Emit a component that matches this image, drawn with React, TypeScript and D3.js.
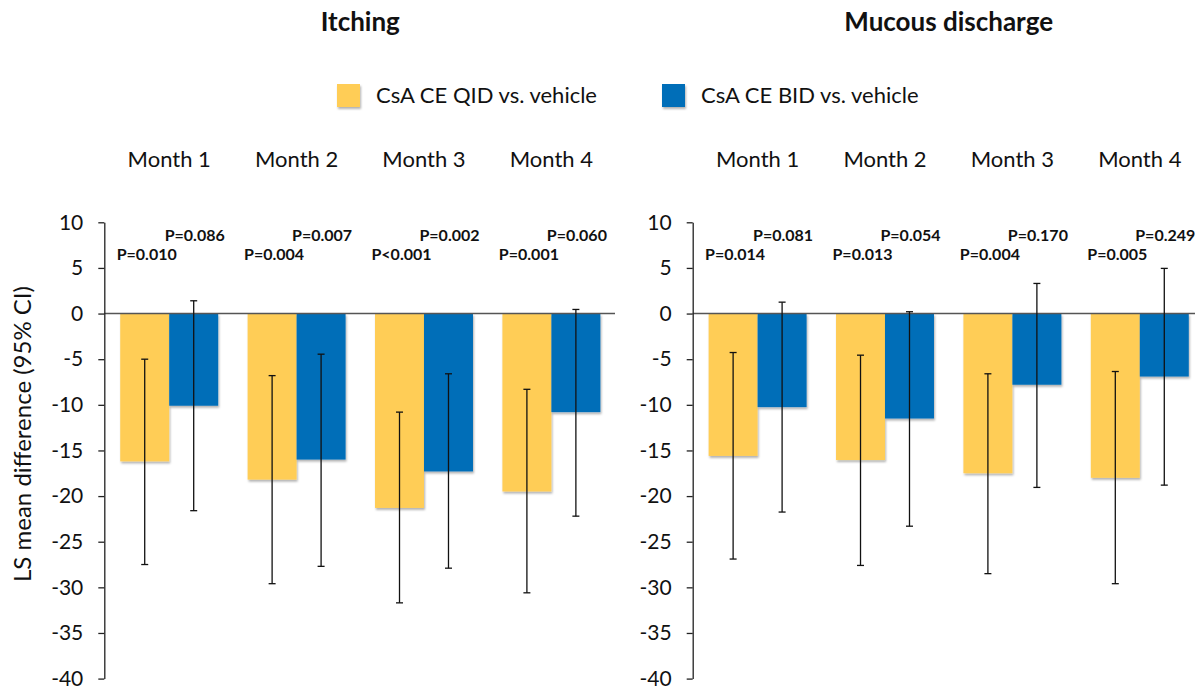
import React, { useEffect, useRef } from "react";
import * as d3 from "d3";

const months = ["Month 1", "Month 2", "Month 3", "Month 4"];
const seriesNames = ["CsA CE QID vs. vehicle", "CsA CE BID vs. vehicle"];
const yTicks = [10, 5, 0, -5, -10, -15, -20, -25, -30, -35, -40];

// Itching
const itchQid = [-16.2, -18.2, -21.3, -19.5];
const itchQidLow = [-27.5, -29.6, -31.7, -30.6];
const itchQidHigh = [-5.0, -6.8, -10.8, -8.3];
const itchBid = [-10.1, -16.0, -17.3, -10.8];
const itchBidLow = [-21.6, -27.7, -27.9, -22.2];
const itchBidHigh = [1.4, -4.45, -6.6, 0.45];
const itchQidP = ["P=0.010", "P=0.004", "P<0.001", "P=0.001"];
const itchBidP = ["P=0.086", "P=0.007", "P=0.002", "P=0.060"];

// Mucous discharge
const mucQid = [-15.6, -16.05, -17.5, -18.0];
const mucQidLow = [-26.9, -27.6, -28.5, -29.6];
const mucQidHigh = [-4.27, -4.56, -6.6, -6.35];
const mucBid = [-10.25, -11.5, -7.8, -6.9];
const mucBidLow = [-21.75, -23.3, -19.05, -18.8];
const mucBidHigh = [1.25, 0.2, 3.3, 4.95];
const mucQidP = ["P=0.014", "P=0.013", "P=0.004", "P=0.005"];
const mucBidP = ["P=0.081", "P=0.054", "P=0.170", "P=0.249"];

const YELLOW = "#FFCD57";
const BLUE = "#006EB8";
const FONT = "Lato, 'Open Sans', sans-serif";

const App = () => {
  const svgRef = useRef<SVGSVGElement>(null);

  useEffect(() => {
    const w = 1195;
    const h = 688;
    const svg = d3.select(svgRef.current).attr("width", w).attr("height", h);
    svg.selectAll("*").remove();

    const defs = svg.append("defs");
    defs
      .append("filter")
      .attr("id", "shadow")
      .attr("x", "-10%")
      .attr("y", "-10%")
      .attr("width", "130%")
      .attr("height", "130%")
      .append("feDropShadow")
      .attr("dx", 1)
      .attr("dy", 2)
      .attr("stdDeviation", 1.2)
      .attr("flood-color", "#000")
      .attr("flood-opacity", 0.3);

    const y = d3.scaleLinear().domain([-40, 10]).range([678.6, 222.3]);

    const panels = [
      {
        title: "Itching",
        axisX: 104.3,
        endX: 615,
        qid: itchQid, qidLow: itchQidLow, qidHigh: itchQidHigh,
        bid: itchBid, bidLow: itchBidLow, bidHigh: itchBidHigh,
        qidP: itchQidP, bidP: itchBidP,
      },
      {
        title: "Mucous discharge",
        axisX: 692.7,
        endX: 1195,
        qid: mucQid, qidLow: mucQidLow, qidHigh: mucQidHigh,
        bid: mucBid, bidLow: mucBidLow, bidHigh: mucBidHigh,
        qidP: mucQidP, bidP: mucBidP,
      },
    ];

    panels.forEach((p) => {
      const g = svg.append("g");
      const x0 = d3
        .scaleBand()
        .domain(months)
        .range([p.axisX, p.axisX + 512])
        .paddingInner(0.231)
        .paddingOuter(0.125);
      const x1 = d3.scaleBand().domain(["qid", "bid"]).range([0, x0.bandwidth()]);

      // title
      g.append("text")
        .attr("x", p.axisX + 512 / 2)
        .attr("y", 31)
        .attr("text-anchor", "middle")
        .attr("font-family", FONT)
        .attr("font-weight", "bold")
        .attr("font-size", 26)
        .attr("fill", "#111")
        .text(p.title);

      // month labels
      g.selectAll(".month")
        .data(months)
        .join("text")
        .attr("x", (d) => (x0(d) as number) + x0.bandwidth() / 2)
        .attr("y", 167)
        .attr("text-anchor", "middle")
        .attr("font-family", FONT)
        .attr("font-size", 22)
        .attr("fill", "#111")
        .text((d) => d);

      const rows = months.map((m, i) => [
        { m, key: "qid", v: p.qid[i], lo: p.qidLow[i], hi: p.qidHigh[i], pv: p.qidP[i], color: YELLOW },
        { m, key: "bid", v: p.bid[i], lo: p.bidLow[i], hi: p.bidHigh[i], pv: p.bidP[i], color: BLUE },
      ]).flat();

      const cx = (d) => (x0(d.m) as number) + (x1(d.key) as number) + x1.bandwidth() / 2;

      // bars
      g.selectAll(".bar")
        .data(rows)
        .join("rect")
        .attr("x", (d) => (x0(d.m) as number) + (x1(d.key) as number))
        .attr("y", y(0))
        .attr("width", x1.bandwidth())
        .attr("height", (d) => y(d.v) - y(0))
        .attr("fill", (d) => d.color)
        .attr("filter", "url(#shadow)");

      // zero line
      g.append("line")
        .attr("x1", p.axisX)
        .attr("x2", p.endX)
        .attr("y1", y(0))
        .attr("y2", y(0))
        .attr("stroke", "#555")
        .attr("stroke-width", 1.5);

      // error bars
      const eb = g.selectAll(".eb").data(rows).join("g").attr("stroke", "#111").attr("stroke-width", 1.3);
      eb.append("line")
        .attr("x1", cx).attr("x2", cx)
        .attr("y1", (d) => y(d.hi)).attr("y2", (d) => y(d.lo));
      eb.append("line")
        .attr("x1", (d) => cx(d) - 3.5).attr("x2", (d) => cx(d) + 3.5)
        .attr("y1", (d) => y(d.hi)).attr("y2", (d) => y(d.hi));
      eb.append("line")
        .attr("x1", (d) => cx(d) - 3.5).attr("x2", (d) => cx(d) + 3.5)
        .attr("y1", (d) => y(d.lo)).attr("y2", (d) => y(d.lo));

      // p-values
      g.selectAll(".pv")
        .data(rows)
        .join("text")
        .attr("x", (d) => cx(d) + (d.key === "qid" ? 2 : 1))
        .attr("y", (d) => (d.key === "qid" ? 260 : 241))
        .attr("text-anchor", "middle")
        .attr("font-family", FONT)
        .attr("font-weight", "bold")
        .attr("font-size", 16)
        .attr("fill", "#111")
        .text((d) => d.pv);

      // y axis
      const axis = d3
        .axisLeft(y)
        .tickValues(yTicks)
        .tickSize(6)
        .tickSizeOuter(0)
        .tickPadding(15)
        .tickFormat((d) => `${d}`);
      const ag = g.append("g").attr("transform", `translate(${p.axisX},0)`).call(axis);
      ag.select(".domain").attr("stroke", "#222").attr("stroke-width", 1.3);
      ag.selectAll(".tick line").attr("stroke", "#222").attr("stroke-width", 1.3);
      ag.selectAll(".tick text")
        .attr("font-family", FONT)
        .attr("font-size", 21)
        .attr("fill", "#111");
    });

    // y axis label
    svg.append("text")
      .attr("transform", `translate(31,${434}) rotate(-90)`)
      .attr("text-anchor", "middle")
      .attr("font-family", FONT)
      .attr("font-size", 24)
      .attr("fill", "#111")
      .text("LS mean difference (95% CI)");

    // legend
    const legendX = [337, 662];
    const colors = [YELLOW, BLUE];
    const lg = svg.selectAll(".legend").data(seriesNames).join("g")
      .attr("transform", (d, i) => `translate(${legendX[i]},84)`);
    lg.append("rect")
      .attr("width", 23)
      .attr("height", 23)
      .attr("fill", (d, i) => colors[i])
      .attr("filter", "url(#shadow)");
    lg.append("text")
      .attr("x", 39)
      .attr("y", 19)
      .attr("font-family", FONT)
      .attr("font-size", 22)
      .attr("fill", "#111")
      .text((d) => d);
  }, []);

  return (
    <svg
      ref={svgRef}
      style={{ position: "absolute", left: 0, top: 0, background: "#fff" }}
    />
  );
};

export default App;
